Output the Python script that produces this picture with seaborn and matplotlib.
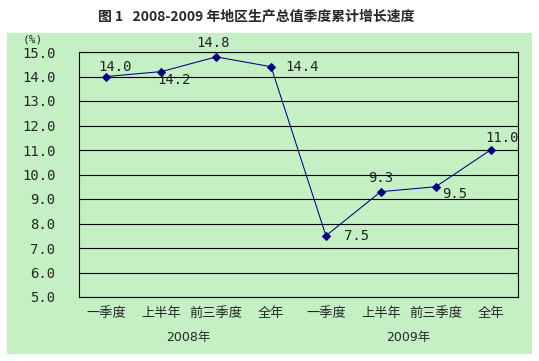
import matplotlib
matplotlib.use("Agg")
import matplotlib.pyplot as plt
import seaborn as sns
import pandas as pd
from matplotlib.patches import Rectangle
import matplotlib.transforms as mtransforms

categories = ["一季度", "上半年", "前三季度", "全年", "一季度", "上半年", "前三季度", "全年"]
years = ["2008年", "2009年"]
values = [14.0, 14.2, 14.8, 14.4, 7.5, 9.3, 9.5, 11.0]
yticks = [5.0, 6.0, 7.0, 8.0, 9.0, 10.0, 11.0, 12.0, 13.0, 14.0, 15.0]

sns.set_style("white")
plt.rcParams['font.family'] = ['DejaVu Sans', 'Noto Sans CJK SC']

GREEN = "#C4F0C4"
NAVY = "#000080"
W, H = 539, 361
fig = plt.figure(figsize=(W / 100, H / 100), dpi=100, facecolor="white")
fig.patches.append(Rectangle((7 / W, 7 / H), (532 - 7) / W, (328 - 7) / H,
                             transform=fig.transFigure, facecolor=GREEN,
                             edgecolor="none", zorder=-10))
ax = fig.add_axes([79 / W, (361 - 297) / H, (518 - 79) / W, (297 - 52) / H])
ax.set_facecolor("none")
ax.set_zorder(5)

df = pd.DataFrame({"pos": list(range(len(values))), "value": values})
sns.lineplot(data=df, x="pos", y="value", ax=ax, color=NAVY, linewidth=0.75,
             marker="D", markersize=4.5, markeredgecolor=NAVY,
             markerfacecolor=NAVY, zorder=3)

ax.set_xlim(-0.5, len(values) - 0.5)
ax.set_ylim(5.0, 15.0)
ax.set_yticks(yticks)
ax.set_yticklabels([f"{v:.1f}" for v in yticks], fontsize=10,
                   family=['DejaVu Sans Mono'])
ax.set_xticks(range(len(values)))
ax.set_xticklabels(categories, fontsize=9.5, family=['Noto Sans CJK SC'])
ax.tick_params(axis='both', length=0)
ax.tick_params(axis='y', pad=17)
ax.tick_params(axis='x', pad=7)
ax.set_xlabel("")
ax.set_ylabel("")
ax.grid(axis='y', color='black', linewidth=0.8)
ax.grid(axis='x', visible=False)
for s in ax.spines.values():
    s.set_color("black")
    s.set_linewidth(0.8)
    s.set_visible(True)

# data labels: (dx, dy) offsets in points
offsets = [(6, 7), (9, -6), (-2, 10), (22, 0), (22, 0), (0, 10), (14, -5), (8, 9)]
for i, (v, (dx, dy)) in enumerate(zip(values, offsets)):
    ax.annotate(f"{v:.1f}", (i, v), xytext=(dx, dy), textcoords="offset points",
                ha="center", va="center", fontsize=10,
                family=['DejaVu Sans Mono'], color="#222222")

# year group labels
trans = mtransforms.blended_transform_factory(ax.transData, fig.transFigure)
for j, yr in enumerate(years):
    ax.text(1.5 + 4 * j, (361 - 337) / H, yr, transform=trans, ha="center",
            va="center", fontsize=9, family=['DejaVu Sans', 'Noto Sans CJK SC'])

fig.text(23 / W, (361 - 39) / H, "(%)", ha="left", va="center", fontsize=8,
         family=['DejaVu Sans Mono'])
fig.text(256 / W, (361 - 17) / H, "图 1   2008-2009 年地区生产总值季度累计增长速度",
         ha="center", va="center", fontsize=10, fontweight="bold",
         family=['Noto Sans CJK SC'])

fig.savefig("out.png", dpi=100, facecolor="white")
